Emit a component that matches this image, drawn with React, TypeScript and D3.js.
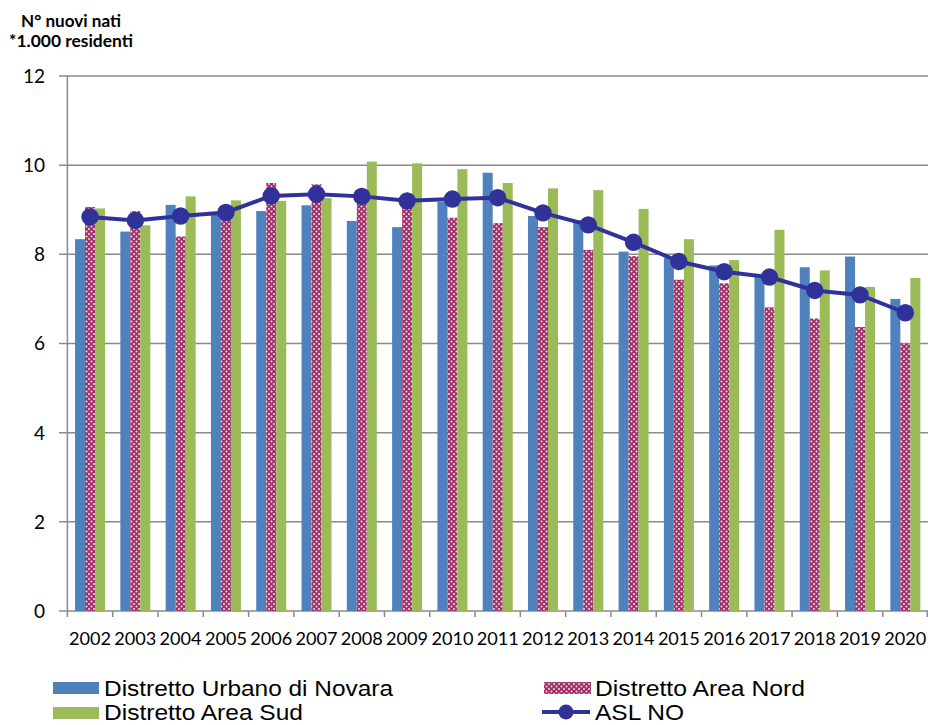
import React from "react";
import * as d3 from "d3";

const years = ["2002","2003","2004","2005","2006","2007","2008","2009","2010","2011","2012","2013","2014","2015","2016","2017","2018","2019","2020"];
const urbano = [8.34, 8.51, 9.11, 8.92, 8.97, 9.10, 8.75, 8.61, 9.18, 9.83, 8.86, 8.76, 8.06, 7.92, 7.75, 7.50, 7.71, 7.95, 7.00];
const nord = [9.06, 8.97, 8.40, 8.90, 9.60, 9.57, 9.20, 9.10, 8.82, 8.70, 8.61, 8.10, 7.96, 7.43, 7.35, 6.81, 6.56, 6.37, 6.00];
const sud = [9.03, 8.65, 9.30, 9.21, 9.20, 9.26, 10.08, 10.04, 9.91, 9.60, 9.48, 9.44, 9.02, 8.34, 7.87, 8.55, 7.64, 7.27, 7.47];
const asl = [8.84, 8.76, 8.86, 8.94, 9.31, 9.35, 9.30, 9.20, 9.24, 9.27, 8.93, 8.66, 8.27, 7.84, 7.61, 7.49, 7.19, 7.09, 6.69];
const yTicks = [0, 2, 4, 6, 8, 10, 12];
const seriesNames = ["Distretto Urbano di Novara", "Distretto Area Nord", "Distretto Area Sud", "ASL NO"];

const W = 928, H = 725;
const left = 67.4, right = 928, top = 76, bottom = 611;
const BLUE = "#4F81BD", PINK = "#A0306A", GREEN = "#9BBB59", NAVY = "#30329A", GRID = "#8A8A8A";

export default function App() {
  const x = d3.scaleBand<string>().domain(years).range([left, right]).padding(0);
  const y = d3.scaleLinear().domain([0, 12]).range([bottom, top]);
  const sub = d3.scaleBand<string>().domain(["u", "n", "s"]).range([0, 30]);
  const bw = sub.bandwidth();
  const off = (x.bandwidth() - 30) / 2;
  const line = d3.line<number>().x((_, i) => (x(years[i]) as number) + x.bandwidth() / 2).y(d => y(d));
  const series: [string, number[], string][] = [["u", urbano, BLUE], ["n", nord, "url(#dots)"], ["s", sud, GREEN]];
  const calibri = "Lato, 'Open Sans', sans-serif";
  const arial = "'Liberation Sans', Arial, sans-serif";

  return (
    <svg width={W} height={H} style={{ position: "absolute", left: 0, top: 0, background: "#fff" }}>
      <defs>
        <pattern id="dots" width="5" height="5" patternUnits="userSpaceOnUse">
          <rect width="5" height="5" fill={PINK} />
          <circle cx="1.5" cy="1.5" r="1" fill="#F2DCE6" />
          <circle cx="4" cy="4" r="1" fill="#F2DCE6" />
        </pattern>
      </defs>
      <text x={21} y={27} fontFamily={calibri} fontWeight="bold" fontSize={17} fill="#000" textLength={100} lengthAdjust="spacingAndGlyphs">N° nuovi nati</text>
      <text x={9} y={47} fontFamily={calibri} fontWeight="bold" fontSize={17} fill="#000" textLength={124} lengthAdjust="spacingAndGlyphs">*1.000 residenti</text>

      {yTicks.map(t => (
        <g key={t}>
          <line x1={59} x2={right} y1={y(t)} y2={y(t)} stroke={GRID} strokeWidth={1.5} />
          <text x={45} y={y(t)} dy="0.36em" textAnchor="end" fontFamily={calibri} fontSize={19}>{t}</text>
        </g>
      ))}
      <line x1={left} x2={left} y1={top} y2={bottom} stroke={GRID} strokeWidth={1.5} />

      {series.map(([k, vals, fill]) => (
        <g key={k}>
          {vals.map((v, i) => (
            <rect key={i} x={(x(years[i]) as number) + off + (sub(k) as number)} y={y(v)} width={bw} height={y(0) - y(v)} fill={fill} />
          ))}
        </g>
      ))}

      {years.map((yr) => (
        <g key={yr}>
          <line x1={(x(yr) as number)} x2={(x(yr) as number)} y1={bottom} y2={bottom + 6} stroke={GRID} strokeWidth={1.5} />
          <text x={(x(yr) as number) + x.bandwidth() / 2} y={645} textAnchor="middle" fontFamily={calibri} fontSize={18} textLength={42} lengthAdjust="spacingAndGlyphs">{yr}</text>
        </g>
      ))}
      <line x1={right - 0.75} x2={right - 0.75} y1={bottom} y2={bottom + 6} stroke={GRID} strokeWidth={1.5} />

      <path d={line(asl) || ""} fill="none" stroke={NAVY} strokeWidth={4} />
      {asl.map((v, i) => (
        <circle key={i} cx={(x(years[i]) as number) + x.bandwidth() / 2} cy={y(v)} r={8.7} fill={NAVY} />
      ))}

      {/* legend */}
      <g fontFamily={arial} fontSize={22}>
        <rect x={53} y={682} width={46} height={12} fill={BLUE} />
        <text x={104} y={696} textLength={289} lengthAdjust="spacingAndGlyphs">{seriesNames[0]}</text>
        <rect x={544} y={682} width={47} height={12} fill="url(#dots)" />
        <text x={595} y={696} textLength={210} lengthAdjust="spacingAndGlyphs">{seriesNames[1]}</text>
        <rect x={53} y={707} width={46} height={12} fill={GREEN} />
        <text x={104} y={720} textLength={199} lengthAdjust="spacingAndGlyphs">{seriesNames[2]}</text>
        <line x1={542} x2={590} y1={712} y2={712} stroke={NAVY} strokeWidth={4} />
        <circle cx={566} cy={712} r={7.5} fill={NAVY} />
        <text x={595} y={720} textLength={89} lengthAdjust="spacingAndGlyphs">{seriesNames[3]}</text>
      </g>
    </svg>
  );
}
